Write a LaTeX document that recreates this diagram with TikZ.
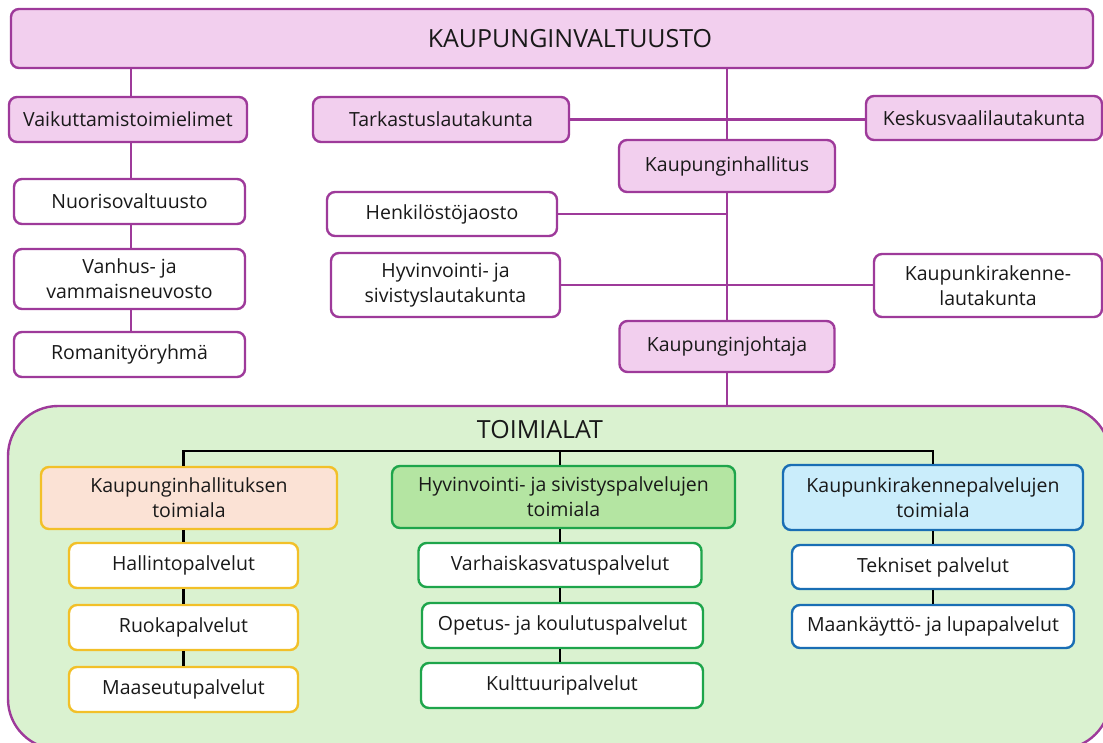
\documentclass[tikz,border=0pt]{standalone}
\usepackage{fontspec}
\setmainfont{Open Sans}
\definecolor{pur}{RGB}{158,58,154}
\definecolor{pinkf}{RGB}{242,207,238}
\definecolor{gbg}{RGB}{218,242,208}
\definecolor{peach}{RGB}{251,226,213}
\definecolor{gold}{RGB}{242,192,40}
\definecolor{gfill}{RGB}{180,229,162}
\definecolor{gline}{RGB}{30,165,75}
\definecolor{bfill}{RGB}{202,237,251}
\definecolor{bline}{RGB}{25,110,180}
\definecolor{txt}{RGB}{25,25,25}
\newcommand\bx[7]{\node[#2, minimum width=#5pt, minimum height=#6pt] (#1) at (#3,#4) {#7};}
\begin{document}
\begin{tikzpicture}[x=1pt,y=-1pt,
  every node/.style={font=\fontsize{19.5}{25}\selectfont, text=txt, align=center, inner sep=0pt, line width=2.4pt, rounded corners=8pt},
  pbox/.style={draw=pur, fill=pinkf},
  wbox/.style={draw=pur, fill=white},
  ybox/.style={draw=gold, fill=peach},
  ywbox/.style={draw=gold, fill=white},
  gbox/.style={draw=gline, fill=gfill},
  gwbox/.style={draw=gline, fill=white},
  bbox/.style={draw=bline, fill=bfill},
  bwbox/.style={draw=bline, fill=white},
  pl/.style={draw=pur, line width=2.4pt},
  bl/.style={draw=black, line width=2.4pt}]
\useasboundingbox (0,0) rectangle (1103,742);
\clip (0,0) rectangle (1103,742);
% container
\node[draw=pur, fill=gbg, rounded corners=50pt, minimum width=1102pt, minimum height=343pt] (cont) at (559,577.5) {};
\node[font=\fontsize{25}{30}\selectfont] (toimt) at (540,430) {TOIMIALAT};
% top part
\bx{valt}{pbox}{552}{38.5}{1082}{59}{\fontsize{25}{30}\selectfont\hspace*{36pt}KAUPUNGINVALTUUSTO}
\bx{vaik}{pbox}{128}{119.5}{238}{45}{Vaikuttamistoimielimet}
\bx{tark}{pbox}{441}{119.5}{256}{45}{Tarkastuslautakunta}
\bx{kesk}{pbox}{984}{118}{236}{44}{Keskusvaalilautakunta}
\bx{khall}{pbox}{727}{166}{216}{52}{Kaupunginhallitus}
\bx{henk}{wbox}{442}{214}{230}{44}{Henkilöstöjaosto}
\bx{hyvltk}{wbox}{445.5}{285}{229}{64}{Hyvinvointi- ja\\sivistyslautakunta}
\bx{kaupltk}{wbox}{988}{285.5}{228}{63}{Kaupunkirakenne-\\lautakunta}
\bx{kjoht}{pbox}{727}{346.5}{215}{51}{Kaupunginjohtaja}
\bx{nuor}{wbox}{129.5}{201.5}{231}{45}{Nuorisovaltuusto}
\bx{vanh}{wbox}{129.5}{279}{231}{60}{Vanhus- ja\\vammaisneuvosto}
\bx{roma}{wbox}{129.5}{354.5}{231}{45}{Romanityöryhmä}
% bottom part
\bx{khtoim}{ybox}{189}{498}{296}{62}{Kaupunginhallituksen\\toimiala}
\bx{hallp}{ywbox}{183.5}{565.5}{229}{45}{Hallintopalvelut}
\bx{ruok}{ywbox}{183.5}{627.5}{229}{45}{Ruokapalvelut}
\bx{maas}{ywbox}{183.5}{689.5}{229}{45}{Maaseutupalvelut}
\bx{hstoim}{gbox}{563.5}{497}{343}{62}{Hyvinvointi- ja sivistyspalvelujen\\toimiala}
\bx{varh}{gwbox}{560}{565}{283}{44}{Varhaiskasvatuspalvelut}
\bx{opet}{gwbox}{562.5}{625.5}{281}{45}{Opetus- ja koulutuspalvelut}
\bx{kult}{gwbox}{562}{685.5}{282}{45}{Kulttuuripalvelut}
\bx{kptoim}{bbox}{933}{497.5}{300}{65}{Kaupunkirakennepalvelujen\\toimiala}
\bx{tekn}{bwbox}{933}{567}{282}{44}{Tekniset palvelut}
\bx{maank}{bwbox}{933}{626.5}{282}{43}{Maankäyttö- ja lupapalvelut}
% purple connectors
\coordinate (vx) at (131,0);
\coordinate (mx) at (727,0);
\draw[pl] (vx |- valt.south) -- (vx |- vaik.north);
\draw[pl] (vx |- vaik.south) -- (vx |- nuor.north);
\draw[pl] (vx |- nuor.south) -- (vx |- vanh.north);
\draw[pl] (vx |- vanh.south) -- (vx |- roma.north);
\draw[pl] (mx |- valt.south) -- (mx |- khall.north);
\draw[pl] (tark.east) -- (tark.east -| kesk.west);
\draw[pl] (mx |- khall.south) -- (mx |- kjoht.north);
\draw[pl] (henk.east) -- (henk.east -| mx);
\draw[pl] (hyvltk.east) -- (hyvltk.east -| kaupltk.west);
\draw[pl] (mx |- kjoht.south) -- (mx |- cont.north);
% black connectors
\coordinate (bus) at (0,451);
\draw[bl] (hallp |- khtoim.north) -- (hallp |- bus) -- (kptoim |- bus) -- (kptoim.north);
\draw[bl] (varh |- bus) -- (varh |- hstoim.north);
\draw[bl] (hallp |- khtoim.south) -- (hallp.north);
\draw[bl] (hallp.south) -- (ruok.north);
\draw[bl] (ruok.south) -- (maas.north);
\draw[bl] (varh |- hstoim.south) -- (varh.north);
\draw[bl] (varh.south) -- (varh |- opet.north);
\draw[bl] (varh |- opet.south) -- (varh |- kult.north);
\draw[bl] (kptoim.south) -- (tekn.north);
\draw[bl] (tekn.south) -- (maank.north);
\end{tikzpicture}
\end{document}
